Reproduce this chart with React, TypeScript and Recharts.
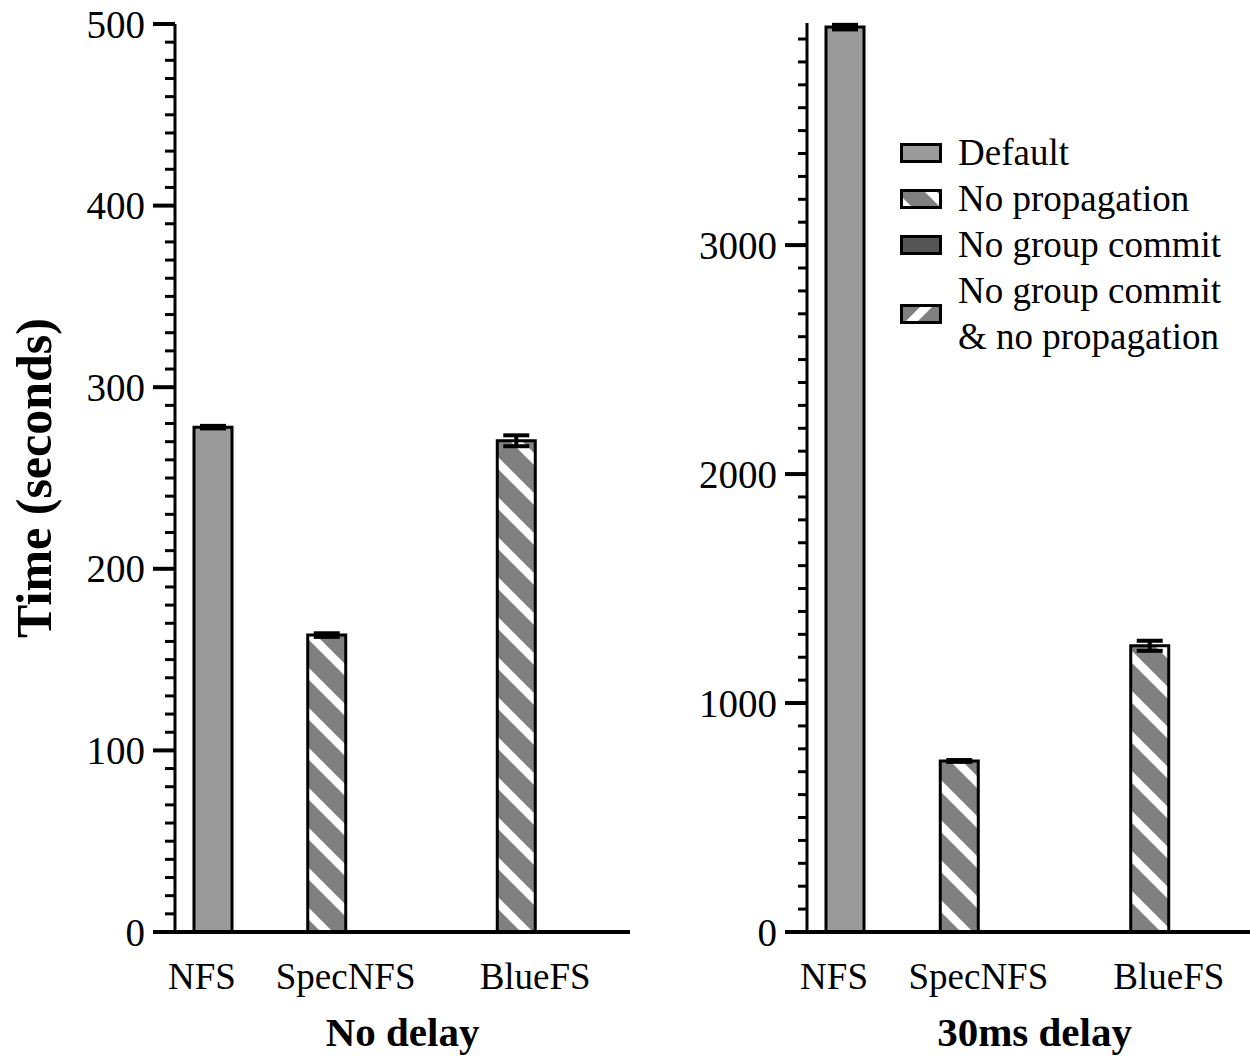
import React from 'react';
import { BarChart, Bar, XAxis, YAxis, ErrorBar, Cell, Legend } from 'recharts';

const SERIF = "'Liberation Serif', 'Times New Roman', serif";

// ---- series (bar configurations) ----
const SERIES_NAMES = ['Default', 'No propagation', 'No group commit', 'No group commit & no propagation'];
const SERIES_KEYS = ['def', 'noProp', 'noGc', 'noGcNoProp'];
const SERIES_FILLS = ['#9a9a9a', 'url(#stripeBack)', '#555555', 'url(#stripeFwd)'];
const SWATCH_PHASE = [0, -7, 0, 11];

// ---- categories (systems) ----
const CATEGORIES = ['NFS', 'SpecNFS', 'BlueFS'];

// ---- bar slots along the x axis: which system / configuration each slot holds ----
const SLOT_IDS = ['s1', 's2', 's3', 's4', 's5', 's6', 's7', 's8', 's9', 's10', 's11'];
const SLOT_SYSTEM = ['NFS', '', 'SpecNFS', 'SpecNFS', 'SpecNFS', 'SpecNFS', '', 'BlueFS', 'BlueFS', 'BlueFS', 'BlueFS'];
const SLOT_SERIES = [0, -1, 0, 1, 2, 3, -1, 0, 1, 2, 3];

// ---- values (seconds) ----
const NO_DELAY_TIME = [278, null, 0.8, 163.5, 0.8, 0.8, null, 0.8, 270.5, 0.8, 0.8];
const NO_DELAY_ERR = [0.7, null, 0, 1, 0, 0, null, 0, 3, 0, 0];
const DELAY30_TIME = [3952, null, 6, 747, 6, 6, null, 6, 1250, 6, 6];
const DELAY30_ERR = [10, null, 0, 4, 0, 0, null, 0, 22, 0, 0];

// ---- axis ticks ----
const NO_DELAY_MAJOR = [0, 100, 200, 300, 400, 500];
const NO_DELAY_MINOR_STEP = 10;
const DELAY30_MAJOR = [0, 1000, 2000, 3000];
const DELAY30_MINOR_STEP = 100;

const NO_DELAY_TITLE = 'No delay';
const DELAY30_TITLE = '30ms delay';
const Y_TITLE = 'Time (seconds)';

function buildRows(times: (number | null)[], errs: (number | null)[]) {
  return SLOT_IDS.map((id, i) => {
    const row: any = { slot: id, system: SLOT_SYSTEM[i] };
    const s = SLOT_SERIES[i];
    if (s >= 0 && times[i] != null) {
      row[SERIES_KEYS[s]] = times[i];
      row[SERIES_KEYS[s] + 'Err'] = errs[i];
    }
    return row;
  });
}

function tickValues(max: number, step: number) {
  const out: number[] = [];
  for (let v = 0; v <= max + 1e-9; v += step) out.push(v);
  return out;
}

const makeYTick = (major: number[], majorLen: number, minorLen: number) => (props: any) => {
  const { x, y, payload } = props;
  const isMajor = major.includes(payload.value);
  const len = isMajor ? majorLen : minorLen;
  return (
    <g>
      <line x1={x - len} x2={x} y1={y} y2={y} stroke="#000" strokeWidth={isMajor ? 4 : 3} />
      {isMajor && (
        <text x={x - len - 8} y={y} textAnchor="end" dominantBaseline="central"
          fontFamily={SERIF} fontSize={39} fill="#000">{payload.value}</text>
      )}
    </g>
  );
};

const XTick = (props: any) => {
  const { x, y, payload } = props;
  const idx = SLOT_IDS.indexOf(payload.value);
  const sys = SLOT_SYSTEM[idx];
  if (!sys) return <g />;
  const members = SLOT_IDS.map((_, i) => i).filter((i) => SLOT_SYSTEM[i] === sys);
  const center = (members[0] + members[members.length - 1]) / 2;
  if (Math.floor(center) !== idx) return <g />;
  const half = payload.offset || 19;
  const nudge = sys === 'NFS' ? -11 : 0;
  const dx = (center - idx) * 2 * half + nudge;
  return (
    <text x={x + dx} y={y + 57} textAnchor="middle" fontFamily={SERIF} fontSize={37} fill="#000">
      {sys}
    </text>
  );
};

const xTitle = (title: string, dx: number) => (props: any) => {
  const vb = props.viewBox || {};
  return (
    <text x={vb.x + vb.width / 2 + dx} y={1046} textAnchor="middle" fontFamily={SERIF}
      fontWeight="bold" fontSize={41} fill="#000">{title}</text>
  );
};

const yTitle = () => (
  <text x={0} y={0} transform="translate(51, 478) rotate(-90)" textAnchor="middle"
    fontFamily={SERIF} fontWeight="bold" fontSize={50} fill="#000">{Y_TITLE}</text>
);

const LegendContent = () => (
  <div style={{ fontFamily: SERIF, fontSize: 37, lineHeight: '46px', color: '#000' }}>
    {SERIES_NAMES.map((name, i) => (
      <div key={name} style={{ display: 'flex', alignItems: 'center' }}>
        <svg width={42} height={20} viewBox={`0 ${SWATCH_PHASE[i]} 42 20`} style={{ flex: 'none', display: 'block' }}>
          <rect x={1.5} y={SWATCH_PHASE[i] + 1.5} width={39} height={17} fill={SERIES_FILLS[i]} stroke="#000" strokeWidth={3} />
        </svg>
        <span style={{ marginLeft: 16, width: 285 }}>{name}</span>
      </div>
    ))}
  </div>
);

function renderBars(rows: any[], zeroLimit: number) {
  return SERIES_KEYS.map((key, s) => (
    <Bar key={key} dataKey={key} name={SERIES_NAMES[s]} stackId="a" fill={SERIES_FILLS[s]}
      stroke="#000" strokeWidth={3} isAnimationActive={false}>
      {rows.map((r, i) => {
        const v = r[key];
        const tiny = v != null && v < zeroLimit;
        return <Cell key={i} stroke={tiny ? '#9a9a9a' : '#000'} strokeWidth={tiny ? 1 : 3} />;
      })}
      <ErrorBar dataKey={key + 'Err'} direction="y" width={13} stroke="#000" strokeWidth={4} />
    </Bar>
  ));
}

const STRIPE_OFFSETS = [-40, 0, 40];

export default function App() {
  const leftRows = buildRows(NO_DELAY_TIME, NO_DELAY_ERR);
  const rightRows = buildRows(DELAY30_TIME, DELAY30_ERR);
  const leftTicks = tickValues(500, NO_DELAY_MINOR_STEP);
  const rightTicks = tickValues(3960, DELAY30_MINOR_STEP);

  return (
    <div style={{ position: 'absolute', left: 0, top: 0, width: 1250, height: 1060, overflow: 'hidden', background: '#fff' }}>
      <svg width={0} height={0} style={{ position: 'absolute' }}>
        <defs>
          <pattern id="stripeBack" patternUnits="userSpaceOnUse" x={0} y={5} width={40} height={40}>
            <rect x={0} y={0} width={40} height={40} fill="#808080" />
            {STRIPE_OFFSETS.map((k) => (
              <line key={k} x1={-10} y1={-10 + k} x2={50} y2={50 + k} stroke="#fff" strokeWidth={8.5} />
            ))}
          </pattern>
          <pattern id="stripeFwd" patternUnits="userSpaceOnUse" x={0} y={0} width={40} height={40}>
            <rect x={0} y={0} width={40} height={40} fill="#808080" />
            {STRIPE_OFFSETS.map((k) => (
              <line key={k} x1={-10} y1={50 + k} x2={50} y2={-10 + k} stroke="#fff" strokeWidth={8.5} />
            ))}
          </pattern>
        </defs>
      </svg>

      <div style={{ position: 'absolute', left: 0, top: 0 }}>
        <BarChart width={640} height={1060} data={leftRows} margin={{ top: 24, right: 10, bottom: 0, left: 0 }}
          barCategoryGap={0} barGap={0}>
          <XAxis dataKey="slot" type="category" interval={0} height={128} tickLine={false} tickSize={0} tickMargin={0}
            axisLine={{ stroke: '#000', strokeWidth: 4 }} padding={{ left: 19, right: 19 }}
            tick={XTick} label={{ content: xTitle(NO_DELAY_TITLE, 0) } as any} />
          <YAxis type="number" domain={[0, 500]} ticks={leftTicks} interval={0} width={175}
            tickLine={false} tickSize={0} tickMargin={0} axisLine={{ stroke: '#000', strokeWidth: 3 }}
            tick={makeYTick(NO_DELAY_MAJOR, 22, 10)} allowDataOverflow
            label={{ content: yTitle } as any} />
          {renderBars(leftRows, 5)}
        </BarChart>
      </div>

      <div style={{ position: 'absolute', left: 640, top: 0 }}>
        <BarChart width={610} height={1060} data={rightRows} margin={{ top: 23, right: 0, bottom: 0, left: 0 }}
          barCategoryGap={0} barGap={0}>
          <XAxis dataKey="slot" type="category" interval={0} height={128} tickLine={false} tickSize={0} tickMargin={0}
            axisLine={{ stroke: '#000', strokeWidth: 4 }} padding={{ left: 19, right: 5 }}
            tick={XTick} label={{ content: xTitle(DELAY30_TITLE, 6) } as any} />
          <YAxis type="number" domain={[0, 3970]} ticks={rightTicks} interval={0} width={167}
            tickLine={false} tickSize={0} tickMargin={0} axisLine={{ stroke: '#000', strokeWidth: 3 }}
            tick={makeYTick(DELAY30_MAJOR, 22, 9)} allowDataOverflow />
          {renderBars(rightRows, 40)}
          <Legend layout="vertical" align="center" verticalAlign="middle" content={LegendContent}
            wrapperStyle={{ position: 'absolute', left: 260, top: 130, width: 360 }} />
        </BarChart>
      </div>
    </div>
  );
}
